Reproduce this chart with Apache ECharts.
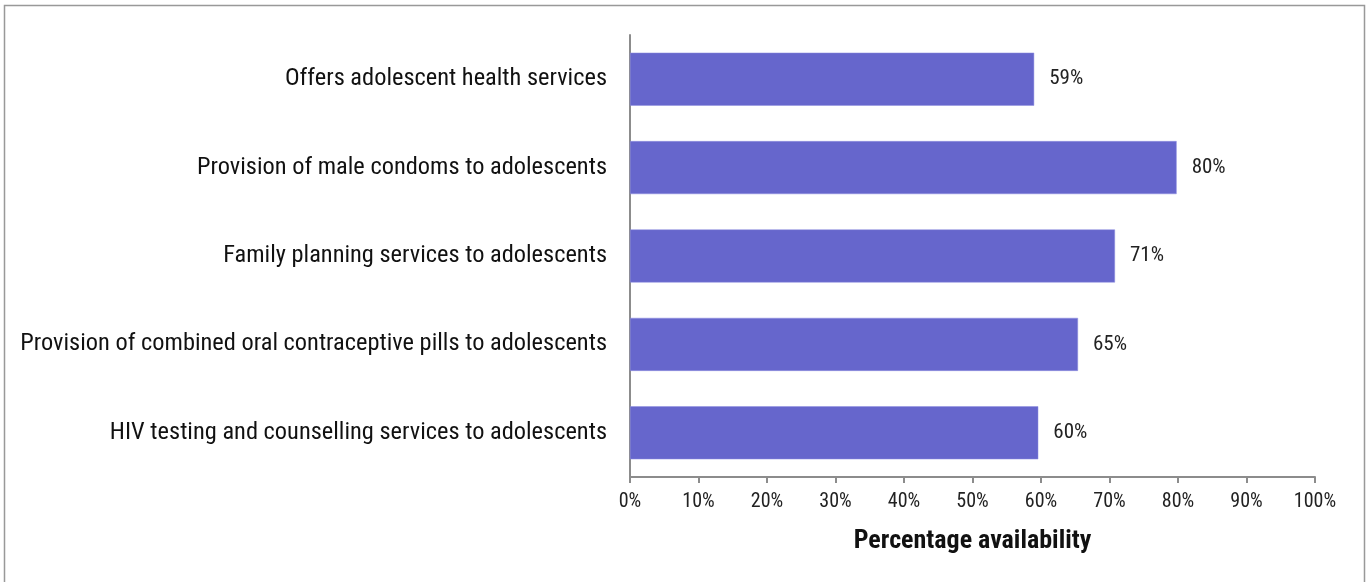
<!DOCTYPE html>
<html><head><meta charset="utf-8">
<script src="https://cdn.jsdelivr.net/npm/echarts@6/dist/echarts.min.js"></script>
<style>html,body{margin:0;padding:0;background:#fff}#c{width:1369px;height:582px}</style>
</head><body><div id="c"></div>
<script>
const categories = [
  "Offers adolescent health services",
  "Provision of male condoms to adolescents",
  "Family planning services to adolescents",
  "Provision of combined oral contraceptive pills to adolescents",
  "HIV testing and counselling services to adolescents"
];
const values = [59.0, 79.8, 70.8, 65.4, 59.6];
const xTicks = [0, 10, 20, 30, 40, 50, 60, 70, 80, 90, 100];
const axisTitle = "Percentage availability";

const FONT = "'Roboto Condensed', 'Liberation Sans', sans-serif";
const chart = echarts.init(document.getElementById('c'), null, {renderer: 'canvas'});
chart.setOption({
  animation: false,
  backgroundColor: '#fff',
  graphic: [{
    type: 'rect', silent: true, z: -1,
    shape: {x: 4.5, y: 5.5, width: 1360, height: 620},
    style: {fill: 'none', stroke: '#999', lineWidth: 1.5}
  }],
  grid: {left: 630, right: 54, top: 35, bottom: 105, containLabel: false},
  xAxis: {
    type: 'value', min: xTicks[0], max: xTicks[xTicks.length - 1], interval: 10,
    name: axisTitle, nameLocation: 'middle', nameGap: 51,
    nameTextStyle: {fontFamily: FONT, fontSize: 26, fontWeight: 'bold', color: '#111'},
    axisLine: {show: true, lineStyle: {color: '#8c8c8c', width: 2}},
    axisTick: {show: true, length: 6, lineStyle: {color: '#8c8c8c', width: 2}},
    axisLabel: {fontFamily: FONT, fontSize: 20, color: '#222', margin: 15, formatter: v => v + '%'},
    splitLine: {show: false}
  },
  yAxis: {
    type: 'category', data: categories, inverse: true,
    axisLine: {show: true, lineStyle: {color: '#8c8c8c', width: 2}},
    axisTick: {show: false},
    axisLabel: {fontFamily: FONT, fontSize: 24.4, color: '#111', margin: 23}
  },
  series: [{
    type: 'bar', data: values, barWidth: '60%',
    itemStyle: {color: '#6666CC', borderColor: '#8f8fe0', borderWidth: 0.5},
    label: {show: true, position: 'right', distance: 15, fontFamily: FONT, fontSize: 21, color: '#222',
      formatter: p => Math.round(p.value) + '%'}
  }]
});
</script></body></html>
